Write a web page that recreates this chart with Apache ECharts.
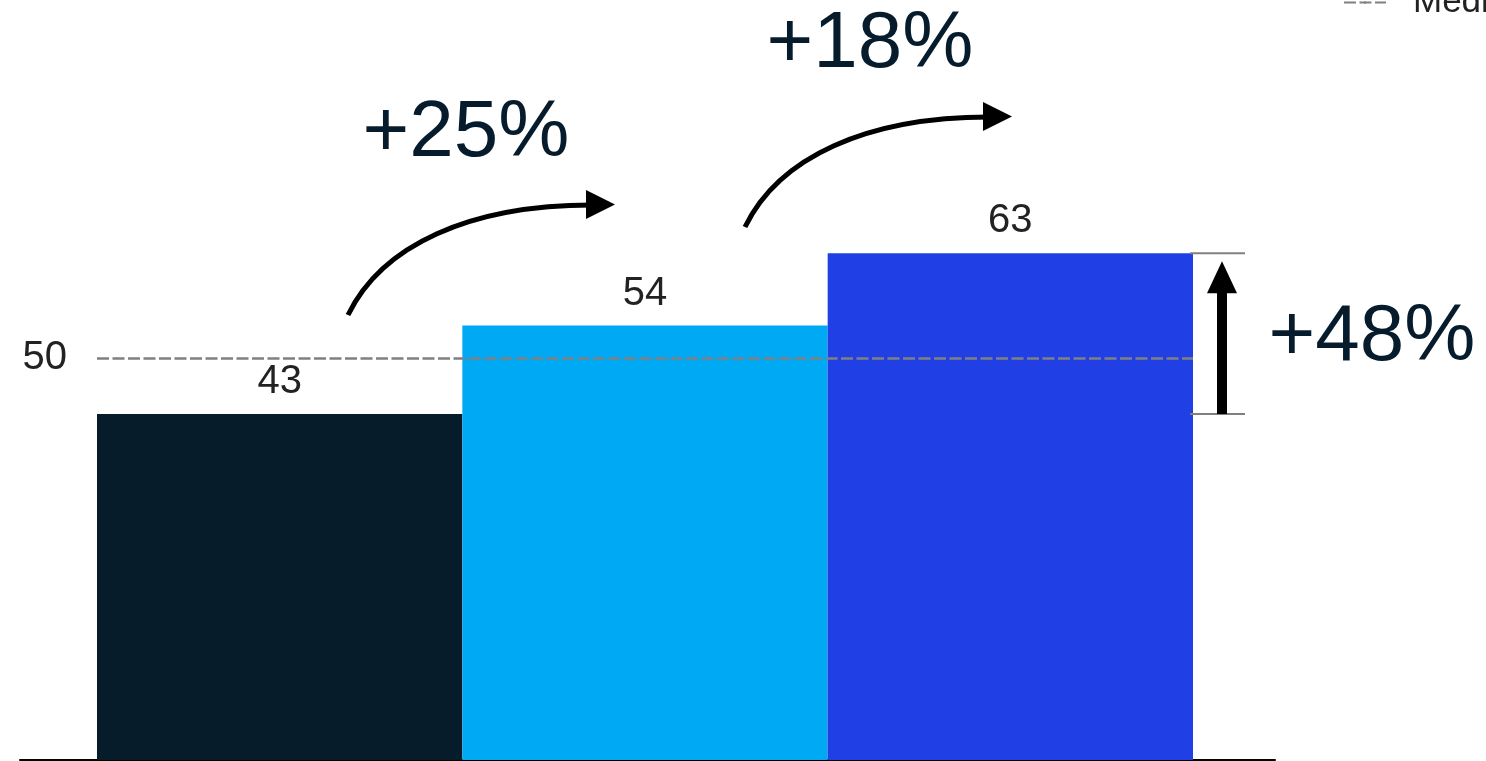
<!DOCTYPE html>
<html>
<head>
<meta charset="utf-8">
<script src="https://cdn.jsdelivr.net/npm/echarts@6/dist/echarts.min.js"></script>
<style>
  html, body { margin: 0; padding: 0; background: #fff; }
  #chart { width: 1486px; height: 761px; }
</style>
</head>
<body>
<div id="chart"></div>
<script>
// Values shown on the bars
const categories = ['Group A', 'Group B', 'Group C'];
const values = [43, 54, 63];
const medianValue = 50;
const changeLabels = ['+25%', '+18%', '+48%'];

// Styling
const barColors = ['#071c2b', '#00a9f4', '#2040e5'];
const FONT = '"Liberation Sans", Arial, sans-serif';
const TEXT_DARK = '#061c2c';

const chart = echarts.init(document.getElementById('chart'), null, { renderer: 'canvas' });

chart.setOption({
  animation: false,
  backgroundColor: '#ffffff',
  legend: {
    data: ['Median'],
    left: 1343,
    top: -15,
    padding: 0,
    itemWidth: 42,
    itemHeight: 3,
    textStyle: { fontSize: 35, color: '#222', fontFamily: FONT, padding: [0, 0, 0, 22] }
  },
  grid: [
    { left: 97, right: 293, top: 36, bottom: 1 },
    { left: 20, right: 211, top: 700, bottom: 1 }
  ],
  xAxis: [
    {
      type: 'category', gridIndex: 0, data: categories,
      axisLine: { show: false }, axisTick: { show: false }, axisLabel: { show: false }
    },
    {
      type: 'value', gridIndex: 1, min: 0, max: 1,
      axisLine: { show: true, lineStyle: { color: '#000', width: 2 } },
      axisTick: { show: false }, axisLabel: { show: false }, splitLine: { show: false }
    }
  ],
  yAxis: [
    {
      type: 'value', gridIndex: 0, min: 0, max: 90,
      axisLine: { show: false }, axisTick: { show: false }, axisLabel: { show: false },
      splitLine: { show: false }
    },
    {
      type: 'value', gridIndex: 1, show: false
    }
  ],
  series: [
    {
      type: 'bar',
      xAxisIndex: 0, yAxisIndex: 0,
      barCategoryGap: '0%',
      data: values.map((v, i) => ({ value: v, itemStyle: { color: barColors[i] } })),
      label: {
        show: true, position: 'top', distance: 12,
        fontSize: 40, color: '#222', fontFamily: FONT
      },
      silent: true
    },
    {
      name: 'Median',
      type: 'line',
      xAxisIndex: 0, yAxisIndex: 0,
      data: [],
      symbol: 'none',
      color: '#808080',
      lineStyle: { color: '#808080', type: [12, 3.5], width: 2.5 },
      markLine: {
        silent: true,
        symbol: 'none',
        data: [{ yAxis: medianValue }],
        lineStyle: { color: '#808080', type: [12, 3.5], width: 2.5 },
        label: {
          position: 'start', distance: 30, formatter: '{c}',
          fontSize: 40, color: '#222', fontFamily: FONT
        }
      },
      z: 5
    }
  ]
});

// Annotations: change arrows and percentage callouts
function px(i, v) { return chart.convertToPixel({ gridIndex: 0 }, [i, v]); }

const top0 = px(0, values[0]);
const top2 = px(2, values[2]);
const barW = px(1, 0)[0] - px(0, 0)[0];
const rightEdge = top2[0] + barW / 2;

function curvedArrow(sx, sy) {
  return [
    {
      type: 'bezierCurve',
      shape: {
        x1: sx, y1: sy,
        cpx1: sx + 34, cpy1: sy - 70,
        cpx2: sx + 122, cpy2: sy - 110,
        x2: sx + 244, y2: sy - 110
      },
      style: { stroke: '#000', lineWidth: 5, fill: null },
      z: 10
    },
    {
      type: 'polygon',
      shape: { points: [[sx + 238, sy - 125], [sx + 267, sy - 110.5], [sx + 238, sy - 96]] },
      style: { fill: '#000' },
      z: 10
    }
  ];
}

function bigText(text, x, y) {
  return {
    type: 'text', x: x, y: y, z: 10,
    style: {
      text: text, fill: TEXT_DARK, font: '80px ' + FONT,
      align: 'center', verticalAlign: 'middle'
    }
  };
}

const arrowX = rightEdge + 29;
const graphics = [].concat(
  curvedArrow(348, 315),
  curvedArrow(745, 227),
  [
    bigText(changeLabels[0], 466, 134),
    bigText(changeLabels[1], 870, 45),
    bigText(changeLabels[2], 1372, 338),
    // bracket lines at the first and last bar heights
    {
      type: 'line', z: 10,
      shape: { x1: rightEdge - 3, y1: top2[1], x2: rightEdge + 52, y2: top2[1] },
      style: { stroke: '#808080', lineWidth: 2 }
    },
    {
      type: 'line', z: 10,
      shape: { x1: rightEdge - 3, y1: top0[1], x2: rightEdge + 52, y2: top0[1] },
      style: { stroke: '#808080', lineWidth: 2 }
    },
    // vertical arrow between them
    {
      type: 'rect', z: 10,
      shape: { x: arrowX - 5, y: top2[1] + 38, width: 10, height: top0[1] - top2[1] - 38 },
      style: { fill: '#000' }
    },
    {
      type: 'polygon', z: 10,
      shape: { points: [[arrowX - 15, top2[1] + 40], [arrowX, top2[1] + 8], [arrowX + 15, top2[1] + 40]] },
      style: { fill: '#000' }
    }
  ]
);

chart.setOption({ graphic: graphics });
</script>
</body>
</html>
